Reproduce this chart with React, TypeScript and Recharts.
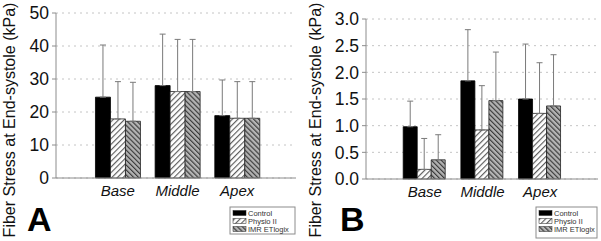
import { BarChart, Bar, XAxis, YAxis, CartesianGrid, ErrorBar } from 'recharts';

const FONT = '"Liberation Sans", Arial, sans-serif';

// regions along the x axis
const categories = ['Base', 'Middle', 'Apex'];
const seriesNames = ['Control', 'Physio II', 'IMR ETlogix'];

// Panel A, kPa (bar value and upper SD)
const controlA = [24.5, 28.0, 18.9];
const controlSdA = [15.8, 15.6, 10.8];
const physioA = [17.9, 26.2, 18.1];
const physioSdA = [11.3, 15.8, 11.1];
const imrA = [17.2, 26.2, 18.1];
const imrSdA = [11.8, 15.8, 11.1];

// Panel B, kPa
const controlB = [0.98, 1.84, 1.5];
const controlSdB = [0.48, 0.96, 1.03];
const physioB = [0.18, 0.92, 1.23];
const physioSdB = [0.58, 0.83, 0.95];
const imrB = [0.36, 1.47, 1.37];
const imrSdB = [0.47, 0.91, 0.96];

const ticksA = [0, 10, 20, 30, 40, 50];
const ticksB = [0, 0.5, 1.0, 1.5, 2.0, 2.5, 3.0];

const buildRows = (c: number[], cs: number[], p: number[], ps: number[], m: number[], ms: number[]) =>
  categories.map((cat, i) => ({
    cat,
    control: c[i],
    physio: p[i],
    imr: m[i],
    controlErr: [0, cs[i]],
    physioErr: [0, ps[i]],
    imrErr: [0, ms[i]],
  }));

const dataA = buildRows(controlA, controlSdA, physioA, physioSdA, imrA, imrSdA);
const dataB = buildRows(controlB, controlSdB, physioB, physioSdB, imrB, imrSdB);

const frame = '#8c8c8c';
const whisker = '#7a7a7a';

function Panel({ data, width, left, top, bottom, right, yWidth, ticks, fmt, pad }: any) {
  return (
    <div style={{ position: 'absolute', left, top: 0 }}>
      <BarChart
        width={width}
        height={241}
        data={data}
        margin={{ top, right, bottom, left: 0 }}
        barGap={0}
        barCategoryGap="12.5%"
      >
        <CartesianGrid vertical={false} stroke="#c4c4c4" strokeDasharray="2 4" />
        <XAxis
          dataKey="cat"
          padding={pad}
          tickLine={false}
          tickSize={0}
          tickMargin={7}
          axisLine={{ stroke: frame }}
          height={30}
          interval={0}
          tick={{ fontSize: 15, fontStyle: 'italic', fill: '#111', fontFamily: FONT }}
        />
        <XAxis
          xAxisId="top"
          orientation="top"
          dataKey="cat"
          height={0}
          tick={false}
          tickLine={false}
          axisLine={{ stroke: frame }}
        />
        <YAxis
          width={yWidth}
          domain={[ticks[0], ticks[ticks.length - 1]]}
          ticks={ticks}
          interval={0}
          tickFormatter={fmt}
          tickSize={4}
          tickMargin={3}
          tickLine={{ stroke: frame }}
          axisLine={{ stroke: frame }}
          tick={{ fontSize: 17.5, fill: '#111', fontFamily: FONT }}
        />
        <YAxis
          yAxisId="right"
          orientation="right"
          width={0}
          tick={false}
          tickLine={false}
          axisLine={{ stroke: frame }}
        />
        <Bar dataKey="control" fill="#000" stroke="#000" strokeWidth={0.8} isAnimationActive={false}>
          <ErrorBar dataKey="controlErr" width={3} stroke={whisker} strokeWidth={1} isAnimationActive={false} />
        </Bar>
        <Bar dataKey="physio" fill="url(#hatchPhysio)" stroke="#222" strokeWidth={0.8} isAnimationActive={false}>
          <ErrorBar dataKey="physioErr" width={3} stroke={whisker} strokeWidth={1} isAnimationActive={false} />
        </Bar>
        <Bar dataKey="imr" fill="url(#hatchImr)" stroke="#222" strokeWidth={0.8} isAnimationActive={false}>
          <ErrorBar dataKey="imrErr" width={3} stroke={whisker} strokeWidth={1} isAnimationActive={false} />
        </Bar>
      </BarChart>
    </div>
  );
}

const swatchFills = ['#000', 'url(#hatchPhysio)', 'url(#hatchImr)'];

function LegendBox({ x, y, w, h, rows }: { x: number; y: number; w: number; h: number; rows: number[] }) {
  return (
    <g>
      <rect x={x} y={y} width={w} height={h} fill="#fff" stroke={frame} strokeWidth={1} />
      {seriesNames.map((name, i) => (
        <g key={name}>
          <rect x={x + 3} y={rows[i] - 2.5} width={13} height={5} fill={swatchFills[i]} stroke="#222" strokeWidth={0.5} />
          <text x={x + 18} y={rows[i] + 2.6} fontSize={7.5} fill="#333" fontFamily={FONT}>
            {name}
          </text>
        </g>
      ))}
    </g>
  );
}

export default function App() {
  const title = 'Fiber Stress at End-systole (kPa)';
  return (
    <div style={{ position: 'absolute', left: 0, top: 0, width: 601, height: 241, background: '#fff', overflow: 'hidden' }}>
      <svg width={0} height={0} style={{ position: 'absolute' }}>
        <defs>
          <pattern id="hatchPhysio" patternUnits="userSpaceOnUse" width={4} height={4} patternTransform="rotate(45)">
            <rect width={4} height={4} fill="#fff" />
            <line x1={0.6} y1={0} x2={0.6} y2={4} stroke="#555" strokeWidth={1.1} />
          </pattern>
          <pattern id="hatchImr" patternUnits="userSpaceOnUse" width={3.5} height={3.5} patternTransform="rotate(-45)">
            <rect width={3.5} height={3.5} fill="#b4b4b4" />
            <line x1={0.6} y1={0} x2={0.6} y2={3.5} stroke="#333" strokeWidth={1.1} />
          </pattern>
        </defs>
      </svg>

      <Panel
        data={dataA}
        width={300}
        left={0}
        top={13}
        bottom={33}
        right={4}
        yWidth={56}
        ticks={ticksA}
        fmt={(v: number) => String(v)}
        pad={{ left: 32, right: 29 }}
      />
      <Panel
        data={dataB}
        width={301}
        left={300}
        top={19}
        bottom={32}
        right={3}
        yWidth={66}
        ticks={ticksB}
        fmt={(v: number) => v.toFixed(1)}
        pad={{ left: 30, right: 29 }}
      />

      <svg width={601} height={241} style={{ position: 'absolute', left: 0, top: 0, pointerEvents: 'none' }}>
        <text transform="translate(15,120) rotate(-90)" textAnchor="middle" fontSize={16} fill="#111" fontFamily={FONT}>
          {title}
        </text>
        <text transform="translate(321,120) rotate(-90)" textAnchor="middle" fontSize={16} fill="#111" fontFamily={FONT}>
          {title}
        </text>
        <text x={27} y={231} fontSize={34} fontWeight="bold" fill="#000" fontFamily={FONT}>A</text>
        <text x={340} y={231} fontSize={34} fontWeight="bold" fill="#000" fontFamily={FONT}>B</text>
        <LegendBox x={230} y={207} w={65} h={27} rows={[213, 221, 229]} />
        <LegendBox x={536} y={207} w={61} h={31} rows={[213, 221, 229]} />
      </svg>
    </div>
  );
}
